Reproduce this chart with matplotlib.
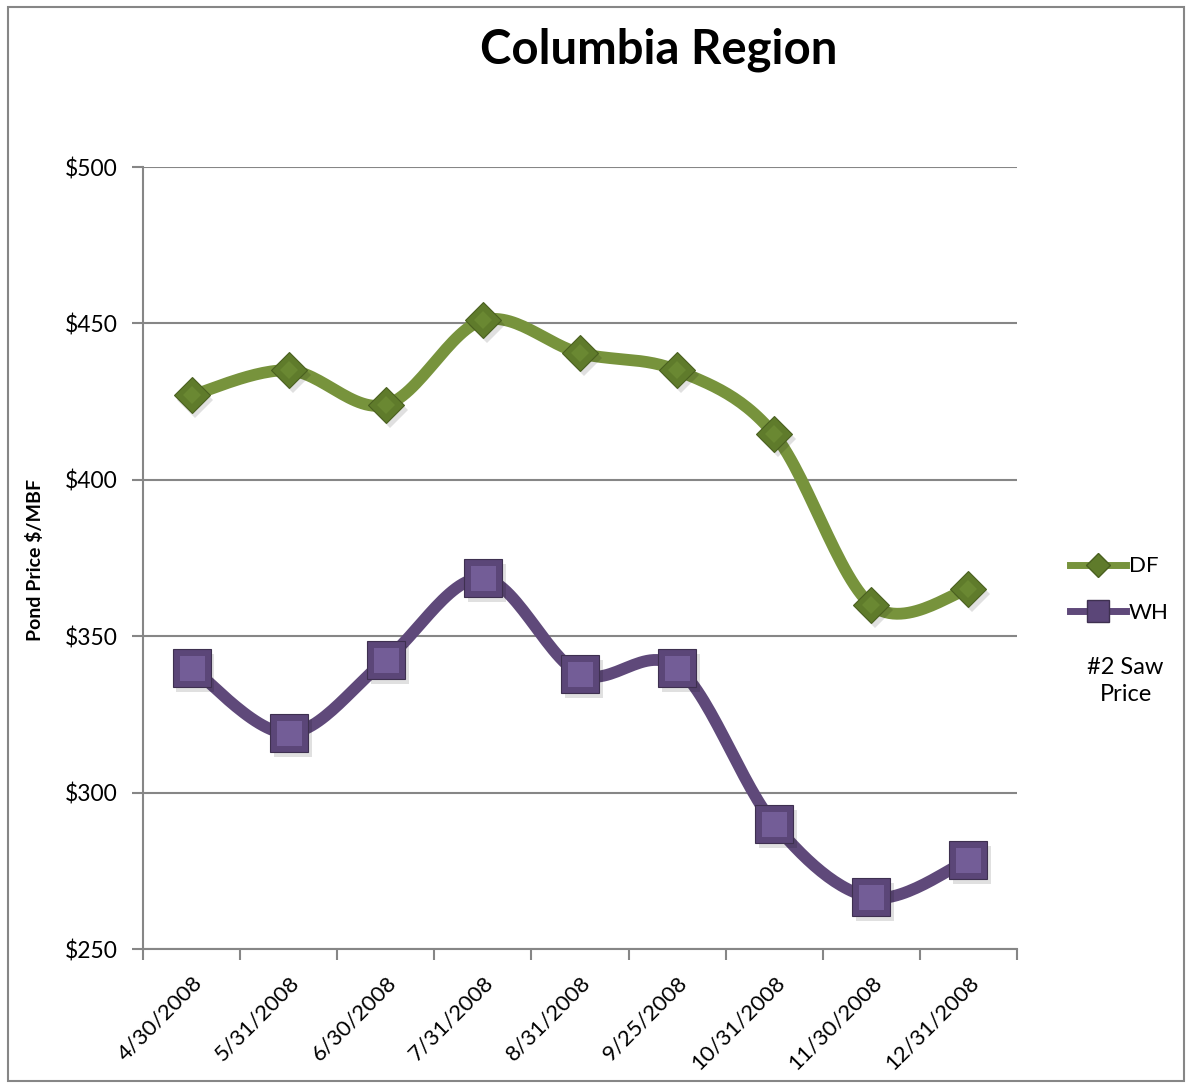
import numpy as np
import matplotlib
matplotlib.use("Agg")
import matplotlib.pyplot as plt
from matplotlib.lines import Line2D
from matplotlib.patches import Rectangle

plt.rcParams['font.family'] = ['Lato', 'DejaVu Sans']

dates = ["4/30/2008", "5/31/2008", "6/30/2008", "7/31/2008", "8/31/2008",
         "9/25/2008", "10/31/2008", "11/30/2008", "12/31/2008"]
df_vals = [427, 435, 424, 451, 440.5, 435, 414.5, 360, 365]
wh_vals = [340, 319, 342.5, 368.5, 338, 340, 290, 266.5, 278.5]
y_ticks = [250, 300, 350, 400, 450, 500]
title = "Columbia Region"
y_label = "Pond Price $/MBF"
legend_note = "#2 Saw\nPrice"

DF_LINE = "#77933C"
DF_MARK = "#5F7B2B"
DF_MARK_HI = "#6E8C35"
WH_LINE = "#5F497A"
WH_MARK = "#5B4678"
WH_MARK_HI = "#7A64A0"


def smooth(xs, ys, n=30):
    xs = np.asarray(xs, float)
    ys = np.asarray(ys, float)
    px = np.concatenate([[xs[0]], xs, [xs[-1]]])
    py = np.concatenate([[ys[0]], ys, [ys[-1]]])
    outx, outy = [], []
    t = np.linspace(0, 1, n)
    for i in range(1, len(px) - 2):
        p0x, p1x, p2x, p3x = px[i - 1], px[i], px[i + 1], px[i + 2]
        p0y, p1y, p2y, p3y = py[i - 1], py[i], py[i + 1], py[i + 2]
        c1x, c1y = p1x + (p2x - p0x) / 6, p1y + (p2y - p0y) / 6
        c2x, c2y = p2x - (p3x - p1x) / 6, p2y - (p3y - p1y) / 6
        bx = (1 - t) ** 3 * p1x + 3 * (1 - t) ** 2 * t * c1x + 3 * (1 - t) * t ** 2 * c2x + t ** 3 * p2x
        by = (1 - t) ** 3 * p1y + 3 * (1 - t) ** 2 * t * c1y + 3 * (1 - t) * t ** 2 * c2y + t ** 3 * p2y
        outx.extend(bx)
        outy.extend(by)
    return np.array(outx), np.array(outy)


fig = plt.figure(figsize=(11.86, 10.84), dpi=100)
fig.patches.append(Rectangle((0.007, 0.003), 0.991, 0.991, transform=fig.transFigure,
                             fill=False, edgecolor="#868686", linewidth=1.5))
ax = fig.add_axes([0.1206, 0.1245, 0.8575 - 0.1206, 0.8459 - 0.1245])

x = np.arange(len(dates))

for v in y_ticks:
    ax.axhline(v, color="#868686", linewidth=1.5, zorder=0)

for vals, lc, mc, hc, mk, ms, ims in [
        (df_vals, DF_LINE, DF_MARK, DF_MARK_HI, "D", 18, 9),
        (wh_vals, WH_LINE, WH_MARK, WH_MARK_HI, "s", 27, 18)]:
    sx, sy = smooth(x, vals)
    ax.plot(sx, sy, color=lc, linewidth=8.5, solid_capstyle="round", zorder=2)
    ax.plot(x + 0.04, np.array(vals) - 1.6, linestyle="none", marker=mk, markersize=ms,
            color="#000000", alpha=0.12, markeredgewidth=0, zorder=3)
    ax.plot(x, vals, linestyle="none", marker=mk, markersize=ms, markerfacecolor=mc,
            markeredgecolor="#3E3050" if mk == "s" else "#4A6020", markeredgewidth=0.8, zorder=4)
    ax.plot(x, vals, linestyle="none", marker=mk, markersize=ims, markerfacecolor=hc,
            markeredgewidth=0, alpha=0.8, zorder=5)

ax.set_xlim(-0.5, len(dates) - 0.5)
ax.set_ylim(250, 500)
ax.set_yticks(y_ticks)
ax.set_yticklabels([f"${v}" for v in y_ticks], fontsize=16.5)
ax.set_xticks(np.arange(-0.5, len(dates), 1.0))
ax.set_xticks(x, minor=True)
ax.set_xticklabels([])
ax.set_xticklabels(dates, minor=True, rotation=45, ha="right", rotation_mode="anchor", fontsize=16)
ax.tick_params(axis="x", which="major", length=8, width=1.5, color="#868686")
ax.tick_params(axis="x", which="minor", length=0, pad=17)
ax.tick_params(axis="y", length=8, width=1.5, color="#868686", pad=10)
for s in ["top", "right"]:
    ax.spines[s].set_visible(False)
for s in ["left", "bottom"]:
    ax.spines[s].set_color("#868686")
    ax.spines[s].set_linewidth(1.5)

ax.set_ylabel(y_label, fontsize=14, fontweight="bold")
ax.yaxis.set_label_coords(-0.113, 0.497)
fig.text(0.555, 0.954, title, fontsize=34, fontweight="bold", ha="center", va="center")

handles = [
    Line2D([0], [0], color=DF_LINE, linewidth=5, marker="D", markersize=12,
           markerfacecolor=DF_MARK, markeredgecolor="#4A6020"),
    Line2D([0], [0], color=WH_LINE, linewidth=5, marker="s", markersize=16,
           markerfacecolor=WH_MARK, markeredgecolor="#3E3050"),
]
leg = fig.legend(handles, ["DF", "WH"], loc="center left", bbox_to_anchor=(0.893, 0.456),
                 frameon=False, fontsize=16, handlelength=2.5, handletextpad=0.15,
                 labelspacing=1.2, borderpad=0)
fig.text(0.949, 0.372, legend_note, fontsize=17, ha="center", va="center", linespacing=1.35)

fig.savefig("out.png", dpi=100)
